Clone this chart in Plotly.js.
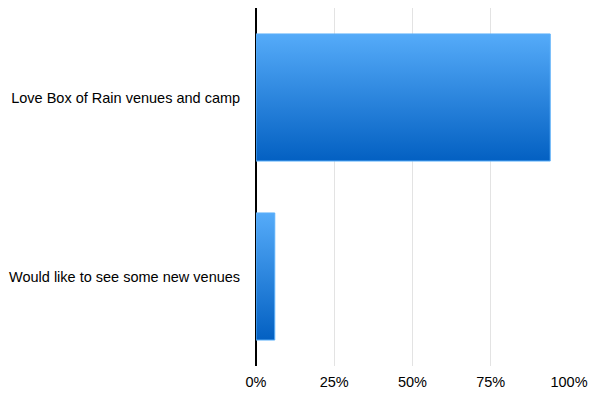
<!DOCTYPE html>
<html>
<head>
<meta charset="utf-8">
<script src="https://cdn.plot.ly/plotly-3.0.1.min.js"></script>
<style>html,body{margin:0;padding:0;background:#fff;}#chart{width:600px;height:405px;}</style>
</head>
<body>
<div id="chart"></div>
<script>
const categories = ["Love Box of Rain venues and camp", "Would like to see some new venues"];
const values = [94, 6];
const tickVals = [0, 25, 50, 75, 100];
const tickText = ["0%", "25%", "50%", "75%", "100%"];

const trace = {
  type: "bar",
  orientation: "h",
  y: categories,
  x: values,
  marker: { color: "#2a86e0", line: { color: "#5cb0fa", width: 1 } },
  hoverinfo: "none"
};

const layout = {
  width: 600,
  height: 405,
  margin: { l: 256, r: 31, t: 8, b: 39 },
  paper_bgcolor: "#ffffff",
  plot_bgcolor: "#ffffff",
  showlegend: false,
  bargap: 0.29,
  font: { family: "Liberation Sans, Arial, Helvetica, sans-serif", size: 14.5, color: "#000" },
  xaxis: {
    range: [0, 100],
    tickvals: tickVals,
    ticktext: tickText,
    showgrid: true,
    gridcolor: "#e3e3e3",
    gridwidth: 1,
    zeroline: true,
    zerolinecolor: "#000",
    zerolinewidth: 2,
    showline: false,
    ticks: "outside",
    ticklen: 3,
    tickcolor: "rgba(0,0,0,0)",
    fixedrange: true
  },
  yaxis: {
    autorange: "reversed",
    showgrid: false,
    zeroline: false,
    showline: false,
    ticks: "outside",
    ticklen: 12,
    tickcolor: "rgba(0,0,0,0)",
    fixedrange: true
  }
};

Plotly.newPlot("chart", [trace], layout, { staticPlot: true, displayModeBar: false }).then(function (gd) {
  const svg = gd.querySelector("svg.main-svg");
  const ns = "http://www.w3.org/2000/svg";
  let defs = svg.querySelector("defs");
  if (!defs) { defs = document.createElementNS(ns, "defs"); svg.insertBefore(defs, svg.firstChild); }
  const grad = document.createElementNS(ns, "linearGradient");
  grad.setAttribute("id", "barGrad");
  grad.setAttribute("x1", "0"); grad.setAttribute("y1", "0");
  grad.setAttribute("x2", "0"); grad.setAttribute("y2", "1");
  [["0%", "#55abf9"], ["100%", "#0360c2"]].forEach(function (s) {
    const st = document.createElementNS(ns, "stop");
    st.setAttribute("offset", s[0]);
    st.setAttribute("stop-color", s[1]);
    grad.appendChild(st);
  });
  defs.appendChild(grad);
  gd.querySelectorAll(".bars .point path").forEach(function (p) {
    p.style.fill = "url(#barGrad)";
  });
});
</script>
</body>
</html>
